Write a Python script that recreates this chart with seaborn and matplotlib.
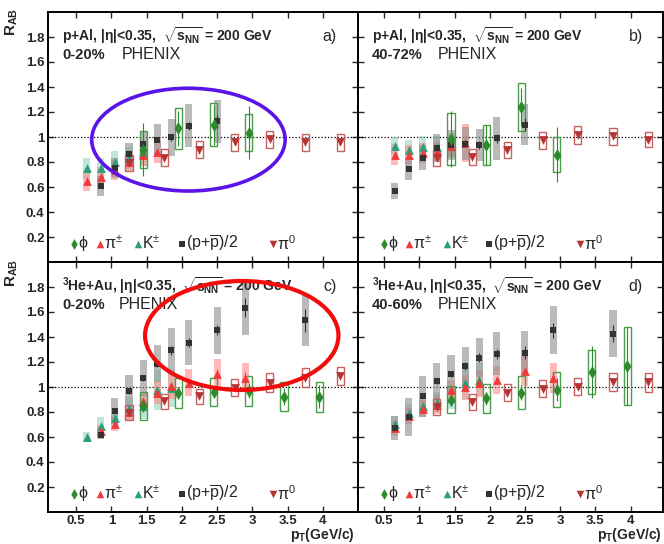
import matplotlib
matplotlib.use("Agg")
import matplotlib.pyplot as plt
import seaborn as sns
import pandas as pd
from matplotlib.patches import Ellipse

# ======================= DATA =======================
# ---- panel a) p+Al 0-20% ----
a_phi_pt = [1.45, 1.95, 2.45, 2.95]
a_phi_r = [0.90, 1.07, 1.10, 1.035]
a_phi_sys = [0.145, 0.165, 0.17, 0.15]
a_phi_stat = [0.21, 0.14, 0.16, 0.21]
a_pi_pt = [0.65, 0.85, 1.05, 1.25, 1.45, 1.65]
a_pi_r = [0.65, 0.68, 0.74, 0.80, 0.86, 0.88]
a_pi_sys = [0.08, 0.08, 0.08, 0.08, 0.09, 0.09]
a_pi_stat = [0.01, 0.01, 0.01, 0.01, 0.015, 0.02]
a_k_pt = [0.65, 0.85, 1.05, 1.25, 1.45]
a_k_r = [0.75, 0.75, 0.80, 0.83, 0.87]
a_k_sys = [0.085, 0.085, 0.09, 0.09, 0.10]
a_k_stat = [0.01, 0.01, 0.01, 0.015, 0.02]
a_p_pt = [0.85, 1.05, 1.25, 1.45, 1.65, 1.85, 2.1, 2.5]
a_p_r = [0.61, 0.755, 0.865, 0.945, 0.98, 0.997, 1.09, 1.125]
a_p_sys = [0.08, 0.08, 0.09, 0.105, 0.12, 0.145, 0.17, 0.175]
a_p_stat = [0.01, 0.01, 0.015, 0.02, 0.02, 0.025, 0.03, 0.05]
a_pi0_pt = [1.25, 1.75, 2.25, 2.75, 3.25, 3.75, 4.25]
a_pi0_r = [0.795, 0.835, 0.90, 0.958, 0.984, 0.958, 0.958]
a_pi0_sys = [0.063, 0.068, 0.07, 0.07, 0.068, 0.068, 0.068]

# ---- panel b) p+Al 40-72% ----
b_phi_pt = [1.45, 1.95, 2.45, 2.95]
b_phi_r = [0.985, 0.94, 1.24, 0.86]
b_phi_sys = [0.21, 0.16, 0.19, 0.14]
b_phi_stat = [0.225, 0.16, 0.15, 0.22]
b_pi_pt = [0.65, 0.85, 1.05, 1.25, 1.45, 1.65]
b_pi_r = [0.86, 0.86, 0.875, 0.88, 0.93, 0.953]
b_pi_sys = [0.085, 0.08, 0.08, 0.08, 0.09, 0.15]
b_pi_stat = [0.01, 0.01, 0.01, 0.015, 0.02, 0.03]
b_k_pt = [0.65, 0.85, 1.05, 1.25, 1.45]
b_k_r = [0.927, 0.90, 0.92, 0.92, 0.93]
b_k_sys = [0.07, 0.08, 0.09, 0.09, 0.10]
b_k_stat = [0.01, 0.01, 0.015, 0.02, 0.02]
b_p_pt = [0.65, 0.85, 1.05, 1.25, 1.45, 1.65, 1.85, 2.1, 2.5]
b_p_r = [0.57, 0.744, 0.835, 0.914, 0.935, 0.948, 0.935, 0.99, 1.10]
b_p_sys = [0.065, 0.09, 0.10, 0.11, 0.12, 0.135, 0.13, 0.17, 0.165]
b_p_stat = [0.01, 0.015, 0.015, 0.02, 0.025, 0.03, 0.03, 0.035, 0.05]
b_pi0_pt = [1.25, 1.75, 2.25, 2.75, 3.25, 3.75, 4.25]
b_pi0_r = [0.83, 0.843, 0.895, 0.974, 1.018, 1.005, 0.98]
b_pi0_sys = [0.065, 0.063, 0.063, 0.068, 0.07, 0.065, 0.06]

# ---- panel c) 3He+Au 0-20% ----
c_phi_pt = [1.45, 1.95, 2.45, 2.95, 3.45, 3.95]
c_phi_r = [0.85, 0.95, 0.96, 0.97, 0.923, 0.923]
c_phi_sys = [0.11, 0.12, 0.115, 0.12, 0.115, 0.12]
c_phi_stat = [0.04, 0.04, 0.04, 0.06, 0.07, 0.09]
c_pi_pt = [0.85, 1.05, 1.25, 1.45, 1.65, 1.85, 2.1, 2.5, 2.9]
c_pi_r = [0.648, 0.707, 0.80, 0.888, 0.955, 1.008, 1.035, 1.107, 1.075]
c_pi_sys = [0.05, 0.055, 0.06, 0.07, 0.09, 0.10, 0.11, 0.12, 0.115]
c_pi_stat = [0.01, 0.01, 0.01, 0.015, 0.015, 0.02, 0.025, 0.035, 0.045]
c_k_pt = [0.65, 0.85, 1.05, 1.25, 1.45, 1.65, 1.85]
c_k_r = [0.60, 0.688, 0.755, 0.83, 0.848, 0.975, 0.99]
c_k_sys = [0.04, 0.075, 0.08, 0.09, 0.10, 0.16, 0.15]
c_k_stat = [0.01, 0.01, 0.01, 0.015, 0.02, 0.025, 0.03]
c_p_pt = [0.85, 1.05, 1.25, 1.45, 1.65, 1.85, 2.1, 2.5, 2.9, 3.75]
c_p_r = [0.62, 0.808, 0.968, 1.07, 1.187, 1.293, 1.355, 1.453, 1.635, 1.533]
c_p_sys = [0.035, 0.105, 0.13, 0.145, 0.15, 0.18, 0.18, 0.19, 0.215, 0.205]
c_p_stat = [0.01, 0.015, 0.02, 0.025, 0.03, 0.035, 0.035, 0.04, 0.075, 0.09]
c_pi0_pt = [1.25, 1.75, 2.25, 2.75, 3.25, 3.75, 4.25]
c_pi0_r = [0.795, 0.888, 0.928, 0.995, 1.035, 1.075, 1.088]
c_pi0_sys = [0.06, 0.06, 0.06, 0.067, 0.075, 0.077, 0.07]

# ---- panel d) 3He+Au 40-60% ----
d_phi_pt = [1.45, 1.95, 2.45, 2.95, 3.45, 3.95]
d_phi_r = [0.90, 0.91, 0.955, 0.98, 1.12, 1.17]
d_phi_sys = [0.11, 0.115, 0.13, 0.14, 0.175, 0.31]
d_phi_stat = [0.05, 0.05, 0.06, 0.09, 0.21, 0.31]
d_pi_pt = [0.65, 0.85, 1.05, 1.25, 1.45, 1.65, 1.85, 2.1, 2.5, 2.9]
d_pi_r = [0.67, 0.77, 0.827, 0.86, 0.973, 1.0, 1.03, 1.056, 1.128, 1.075]
d_pi_sys = [0.06, 0.065, 0.07, 0.075, 0.085, 0.10, 0.11, 0.11, 0.12, 0.12]
d_pi_stat = [0.01, 0.01, 0.01, 0.015, 0.015, 0.02, 0.02, 0.025, 0.035, 0.045]
d_k_pt = [0.65, 0.85, 1.05, 1.25, 1.45, 1.65, 1.85]
d_k_r = [0.707, 0.795, 0.848, 0.88, 0.915, 1.035, 1.06]
d_k_sys = [0.06, 0.07, 0.075, 0.08, 0.09, 0.13, 0.13]
d_k_stat = [0.01, 0.01, 0.01, 0.015, 0.02, 0.025, 0.03]
d_p_pt = [0.65, 0.85, 1.05, 1.25, 1.45, 1.65, 1.85, 2.1, 2.5, 2.9, 3.75]
d_p_r = [0.675, 0.76, 0.925, 1.048, 1.107, 1.168, 1.235, 1.267, 1.275, 1.456, 1.427]
d_p_sys = [0.095, 0.15, 0.165, 0.145, 0.15, 0.15, 0.155, 0.17, 0.175, 0.195, 0.19]
d_p_stat = [0.01, 0.015, 0.015, 0.02, 0.025, 0.03, 0.035, 0.04, 0.05, 0.06, 0.07]
d_pi0_pt = [1.25, 1.75, 2.25, 2.75, 3.25, 3.75, 4.25]
d_pi0_r = [0.84, 0.88, 0.955, 0.987, 1.003, 1.037, 1.04]
d_pi0_sys = [0.065, 0.062, 0.066, 0.07, 0.07, 0.072, 0.076]

# ---- text / ticks ----
systems = ["p+Al", "p+Al", "$^{\\mathbf{3}}$He+Au", "$^{\\mathbf{3}}$He+Au"]
centralities = ["0-20%", "40-72%", "0-20%", "40-60%"]
panel_tags = ["a)", "b)", "c)", "d)"]
x_ticks = [0.5, 1, 1.5, 2, 2.5, 3, 3.5, 4]
x_ticklabels = ["0.5", "1", "1.5", "2", "2.5", "3", "3.5", "4"]
y_ticks = [0.2, 0.4, 0.6, 0.8, 1.0, 1.2, 1.4, 1.6, 1.8]
y_ticklabels = ["0.2", "0.4", "0.6", "0.8", "1", "1.2", "1.4", "1.6", "1.8"]
legend_labels = ["\u03d5", "\u03c0$^{\\pm}$", "K$^{\\pm}$",
                 "(p+$\\overline{\\mathrm{p}}$)/2", "\u03c0$^{0}$"]

# ======================= STYLE =======================
sns.set_theme(style="ticks")
plt.rcParams["font.family"] = ["Liberation Sans", "DejaVu Sans"]
plt.rcParams["mathtext.fontset"] = "custom"
plt.rcParams["mathtext.rm"] = "Liberation Sans"
plt.rcParams["mathtext.it"] = "Liberation Sans:italic"
plt.rcParams["mathtext.bf"] = "Liberation Sans:bold"

STY = {
    "phi": dict(marker="d", color="#2f8a2f", box="#4a9e4a", filled=False, s=44, order=4),
    "pi": dict(marker="^", color="#f03a3a", box="#ff8080", filled=True, alpha=0.55, s=40, order=2),
    "k": dict(marker="^", color="#2a9e78", box="#7fd0b4", filled=True, alpha=0.5, s=40, order=1),
    "p": dict(marker="s", color="#333333", box="#8c8c8c", filled=True, alpha=0.6, s=22, order=3),
    "pi0": dict(marker="v", color="#b53535", box="#c86060", filled=False, s=40, order=5),
}
BOX_W = 0.10

panels = [
    dict(phi=(a_phi_pt, a_phi_r, a_phi_sys, a_phi_stat), pi=(a_pi_pt, a_pi_r, a_pi_sys, a_pi_stat),
         k=(a_k_pt, a_k_r, a_k_sys, a_k_stat), p=(a_p_pt, a_p_r, a_p_sys, a_p_stat),
         pi0=(a_pi0_pt, a_pi0_r, a_pi0_sys, None)),
    dict(phi=(b_phi_pt, b_phi_r, b_phi_sys, b_phi_stat), pi=(b_pi_pt, b_pi_r, b_pi_sys, b_pi_stat),
         k=(b_k_pt, b_k_r, b_k_sys, b_k_stat), p=(b_p_pt, b_p_r, b_p_sys, b_p_stat),
         pi0=(b_pi0_pt, b_pi0_r, b_pi0_sys, None)),
    dict(phi=(c_phi_pt, c_phi_r, c_phi_sys, c_phi_stat), pi=(c_pi_pt, c_pi_r, c_pi_sys, c_pi_stat),
         k=(c_k_pt, c_k_r, c_k_sys, c_k_stat), p=(c_p_pt, c_p_r, c_p_sys, c_p_stat),
         pi0=(c_pi0_pt, c_pi0_r, c_pi0_sys, None)),
    dict(phi=(d_phi_pt, d_phi_r, d_phi_sys, d_phi_stat), pi=(d_pi_pt, d_pi_r, d_pi_sys, d_pi_stat),
         k=(d_k_pt, d_k_r, d_k_sys, d_k_stat), p=(d_p_pt, d_p_r, d_p_sys, d_p_stat),
         pi0=(d_pi0_pt, d_pi0_r, d_pi0_sys, None)),
]

fig = plt.figure(figsize=(6.64, 5.44), dpi=100)
gs = fig.add_gridspec(2, 2, left=48 / 664, right=663 / 664, top=1 - 12 / 544, bottom=1 - 512 / 544,
                      wspace=0, hspace=0, width_ratios=[310, 305])
axes = [fig.add_subplot(gs[i, j]) for i in range(2) for j in range(2)]
xlims = [(0.1, 4.5), (0.13, 4.46), (0.1, 4.5), (0.13, 4.46)]

for idx, (ax, pdata) in enumerate(zip(axes, panels)):
    ax.axhline(1.0, color="black", lw=0.9, ls=(0, (1, 1.6)), zorder=1)
    # systematic boxes
    for key in ["k", "pi", "p"]:
        pt, r, sy, st = pdata[key]
        S = STY[key]
        ax.bar(pt, [2 * v for v in sy], bottom=[a - b for a, b in zip(r, sy)], width=BOX_W,
               color=S["box"], alpha=S["alpha"], linewidth=0, zorder=2)
    for key in ["phi", "pi0"]:
        pt, r, sy, st = pdata[key]
        S = STY[key]
        ax.bar(pt, [2 * v for v in sy], bottom=[a - b for a, b in zip(r, sy)], width=BOX_W,
               facecolor="none", edgecolor=S["box"], linewidth=1.0, zorder=3)
    # stat error bars + markers
    for key in ["k", "pi", "p", "phi", "pi0"]:
        pt, r, sy, st = pdata[key]
        S = STY[key]
        if st is not None:
            ax.errorbar(pt, r, yerr=st, fmt="none", ecolor=S["color"], elinewidth=0.8,
                        capsize=0, zorder=5 + S["order"])
        df = pd.DataFrame({"pT": pt, "R": r})
        sns.scatterplot(data=df, x="pT", y="R", ax=ax, marker=S["marker"], s=S["s"],
                        color=S["color"], linewidth=0, zorder=10 + S["order"], legend=False)

    ax.set_xlim(*xlims[idx])
    ax.set_ylim(0, 2.0)
    ax.set_xticks(x_ticks)
    ax.set_yticks(y_ticks)
    ax.set_xlabel("")
    ax.set_ylabel("")
    ax.tick_params(direction="in", top=True, right=True, length=4.5, width=1.0,
                   labelsize=9.5, pad=2.5)
    if idx >= 2:
        ax.set_xticklabels(x_ticklabels, fontweight="bold")
    else:
        ax.set_xticklabels([])
    if idx % 2 == 0:
        ax.set_yticklabels(y_ticklabels, fontweight="bold")
    else:
        ax.set_yticklabels([])
    for sp in ax.spines.values():
        sp.set_linewidth(1.4)
        sp.set_color("black")

    # header text
    ax.text(0.045, 0.885, systems[idx] + ", |\u03b7|<0.35,  $\\sqrt{\\mathbf{s}_{\\mathbf{NN}}}$ = 200 GeV",
            transform=ax.transAxes, fontsize=10, fontweight="bold", ha="left", va="baseline")
    ax.text(0.045, 0.813, centralities[idx], transform=ax.transAxes, fontsize=10.5,
            fontweight="bold", ha="left", va="baseline")
    ax.text([0.239, 0.262, 0.227, 0.263][idx], 0.813, "PHENIX", transform=ax.transAxes,
            fontsize=11.5, ha="left", va="baseline")
    ax.text([0.931, 0.934, 0.931, 0.934][idx], 0.885, panel_tags[idx], transform=ax.transAxes,
            fontsize=11.5, ha="right", va="baseline")

    # legend row
    ly = 0.074
    leg_marker_x = [0.085, 0.168, 0.291, 0.431, 0.727]
    leg_keys = ["phi", "pi", "k", "p", "pi0"]
    leg_sizes = [30, 30, 30, 18, 30]
    for lx, key, lab, ms in zip(leg_marker_x, leg_keys, legend_labels, leg_sizes):
        S = STY[key]
        ax.scatter([lx], [ly], transform=ax.transAxes, marker=S["marker"], s=ms,
                   color=S["color"], linewidth=0, clip_on=False, zorder=20)
        ax.text(lx + 0.013, ly, lab, transform=ax.transAxes, fontsize=11.5,
                ha="left", va="center")

# highlight ellipses
axes[0].add_patch(Ellipse((2.093, 0.979), 2.746, 0.822, fill=False, edgecolor="#5a14e8",
                          linewidth=2.6, zorder=30))
axes[2].add_patch(Ellipse((2.85, 1.412), 2.745, 0.872, fill=False, edgecolor="#f20c0c",
                          linewidth=3.0, zorder=30))

# axis labels
for yc in [1 - 22 / 544, 1 - 273 / 544]:
    fig.text(12 / 664, yc, "$\\mathbf{R}_{\\mathbf{AB}}$", rotation=90, fontsize=11,
             ha="center", va="center")
for xr in [355 / 664, 662 / 664]:
    fig.text(xr, 1 - 539 / 544, "$\\mathbf{p}_{\\mathbf{T}}$(GeV/c)", fontsize=10,
             fontweight="bold", ha="right", va="baseline")

fig.savefig("out.png", dpi=100)
